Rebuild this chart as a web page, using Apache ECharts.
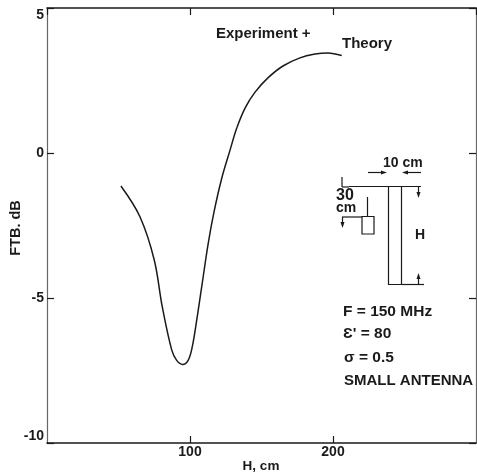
<!DOCTYPE html>
<html><head><meta charset="utf-8">
<style>html,body{margin:0;padding:0;background:#fff}#c{width:477px;height:476px}</style>
<script src="https://cdn.jsdelivr.net/npm/echarts@6/dist/echarts.min.js"></script>
</head><body><div id="c"></div>
<script>
const heightCm = [51.7,65.0,75.0,80.6,87.2,90.7,94.9,98.8,101.6,104.7,108.2,112.8,116.8,122.2,128.0,132.7,138.5,145.5,154.5,165.0,176.9,187.4,196.5,206.1];
const ftbDb = [-1.14,-2.20,-3.69,-5.30,-6.79,-7.15,-7.29,-7.14,-6.68,-5.76,-4.61,-3.10,-2.03,-0.87,0.10,0.86,1.55,2.10,2.59,3.00,3.28,3.41,3.45,3.36];
const xLabel = 'H, cm';
const yLabel = 'FTB. dB';
const notes = ['F = 150 MHz', "Ɛ' = 80", 'σ = 0.5', 'SMALL ANTENNA'];

const ink = '#1a1a1a';
const FONT = '"Liberation Sans", Arial, sans-serif';
const chart = echarts.init(document.getElementById('c'), null, {renderer:'canvas'});

const txt = (s, x, y, size, align) => ({type:'text', x, y, silent:true,
  style:{text:s, fill:ink, font:`bold ${size||12}px ${FONT}`, align:align||'left', verticalAlign:'middle'}});
const seg = (x1,y1,x2,y2,w) => ({type:'line', silent:true,
  shape:{x1,y1,x2,y2}, style:{stroke:ink, lineWidth:w||1.2}});
const arrow = (x,y,dx,dy) => ({type:'polygon', silent:true,
  shape:{points: dx ? [[x,y],[x-dx*6,y-2],[x-dx*6,y+2]] : [[x,y],[x-2,y-dy*6],[x+2,y-dy*6]]},
  style:{fill:ink}});
const rect = (x,y,w,h) => ({type:'rect', silent:true, shape:{x,y,width:w,height:h},
  style:{fill:'none', stroke:ink, lineWidth:1.2}});

const inset = [
  seg(349,186.5,421,186.5), seg(342,177,342,187), seg(342,187,349,187),
  rect(388.5,186.5,13,98), seg(401.5,284.5,424,284.5),
  rect(362,216.5,12,17.5), seg(367.5,197,367.5,216.5), seg(342,217,362,217),
  seg(342.5,217,342.5,226), arrow(342.5,228,0,1),
  seg(418.5,187,418.5,193), arrow(418.5,198,0,1),
  seg(418.5,279,418.5,285), arrow(418.5,273,0,-1),
  seg(368,172.5,382,172.5), arrow(387,172.5,1,0),
  seg(408,172.5,421,172.5), arrow(402,172.5,-1,0),
  txt('10 cm',383,163,14), txt('30',336,196,16), txt('cm',336,208,14), txt('H',415,235,14)
];
const labels = [
  txt('Experiment +',216,34,15), txt('Theory',342,44,15),
  txt(notes[0],343,312,15.5), txt(notes[1],343,334,15.5), txt(notes[2],344,358,15.5), txt(notes[3],344,381,15),
  txt(xLabel,261,466,13.5,'center'),
  {type:'text', x:16, y:228, rotation:Math.PI/2, silent:true,
   style:{text:yLabel, fill:ink, font:`bold 14.5px ${FONT}`, align:'center', verticalAlign:'middle'}}
];

const tick = {show:true, inside:true, length:7, lineStyle:{color:ink, width:1.2}};
const lab = {color:ink, fontFamily:FONT, fontWeight:'bold', fontSize:14};
chart.setOption({
  animation:false, backgroundColor:'#fff',
  grid:{left:47, right:1, top:8, bottom:33, containLabel:false},
  xAxis:[
    {type:'value', min:0, max:300, interval:100, position:'bottom',
     axisLine:{show:true, onZero:false, lineStyle:{color:ink,width:1.6}}, axisTick:tick, splitLine:{show:false},
     axisLabel:{...lab, margin:2, showMinLabel:false, showMaxLabel:false, hideOverlap:false}},
    {type:'value', min:0, max:300, interval:100, position:'top',
     axisLine:{show:true, onZero:false, lineStyle:{color:ink,width:1.6}}, axisTick:tick, splitLine:{show:false},
     axisLabel:{show:false}}
  ],
  yAxis:[
    {type:'value', min:-10, max:5, interval:5, position:'left',
     axisLine:{show:true, onZero:false, lineStyle:{color:'#666',width:1.2}}, axisTick:tick, splitLine:{show:false},
     axisLabel:{...lab, margin:3, verticalAlignMaxLabel:'top', verticalAlignMinLabel:'bottom'}},
    {type:'value', min:-10, max:5, interval:5, position:'right',
     axisLine:{show:true, onZero:false, lineStyle:{color:'#666',width:1.2}}, axisTick:tick, splitLine:{show:false},
     axisLabel:{show:false}}
  ],
  series:[{type:'line', xAxisIndex:0, yAxisIndex:0, smooth:0.35, showSymbol:false, symbol:'none',
    lineStyle:{color:ink, width:1.5}, data:heightCm.map((h,i)=>[h,ftbDb[i]])}],
  graphic:{elements:[...labels, ...inset]}
});
</script></body></html>
